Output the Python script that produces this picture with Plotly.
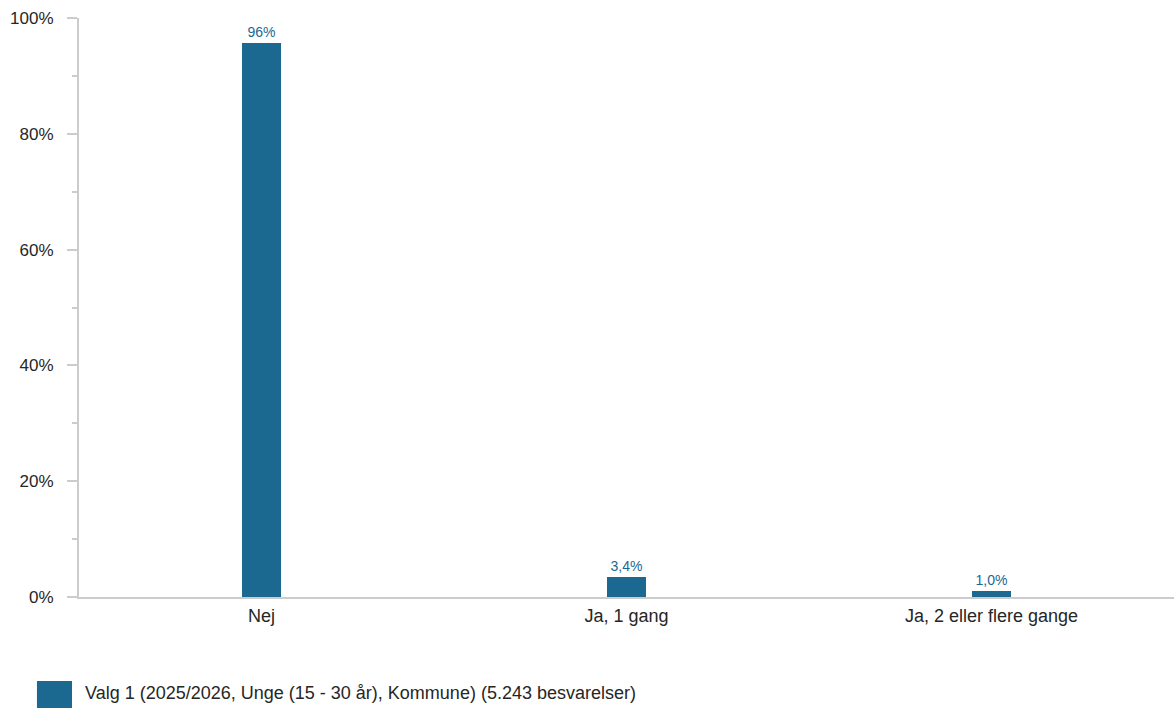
import plotly.graph_objects as go

categories = ["Nej", "Ja, 1 gang", "Ja, 2 eller flere gange"]
values = [95.7, 3.4, 1.0]
value_labels = ["96%", "3,4%", "1,0%"]
series_name = "Valg 1 (2025/2026, Unge (15 - 30 år), Kommune) (5.243 besvarelser)"

bar_color = "#1b6890"
axis_color = "#cccccc"
text_color = "#262626"
font_family = "Liberation Sans, Arial, sans-serif"

fig = go.Figure()
fig.add_trace(go.Bar(
    x=categories, y=values, name=series_name,
    marker=dict(color=bar_color, line=dict(width=0)),
    width=0.105,
    text=value_labels, textposition="outside",
    textfont=dict(size=14, color=bar_color, family=font_family),
    cliponaxis=False, showlegend=False,
))

fig.update_layout(
    width=1174, height=708,
    margin=dict(l=79, r=0, t=18, b=111),
    paper_bgcolor="white", plot_bgcolor="white",
    font=dict(family=font_family, size=16, color=text_color),
    bargap=0,
)
fig.update_xaxes(
    showgrid=False, showline=True, linecolor=axis_color, linewidth=2,
    ticks="", tickfont=dict(size=18, color=text_color),
    ticklabelstandoff=1,
)
fig.update_yaxes(
    range=[0, 100], dtick=20, ticksuffix="%",
    showgrid=False, zeroline=False,
    showline=True, linecolor=axis_color, linewidth=2,
    ticks="outside", ticklen=10, tickcolor=axis_color, tickwidth=2,
    tickfont=dict(size=17, color=text_color),
    ticklabelstandoff=10,
    minor=dict(dtick=10, ticks="outside", ticklen=5, tickcolor=axis_color, tickwidth=2),
)

# legend drawn below the plot
fig.add_shape(type="rect", xref="paper", yref="paper",
              x0=-0.0384, x1=-0.0064, y0=-0.192, y1=-0.145,
              fillcolor=bar_color, line=dict(width=0))
fig.add_annotation(text=series_name, xref="paper", yref="paper",
                   x=0.0036, y=-0.166, xanchor="left", yanchor="middle",
                   showarrow=False, font=dict(size=18, color=text_color))

fig.write_html(
    "out.html",
    config={"displayModeBar": False},
    post_script="document.body.style.margin='0';document.body.style.overflow='hidden';",
)
